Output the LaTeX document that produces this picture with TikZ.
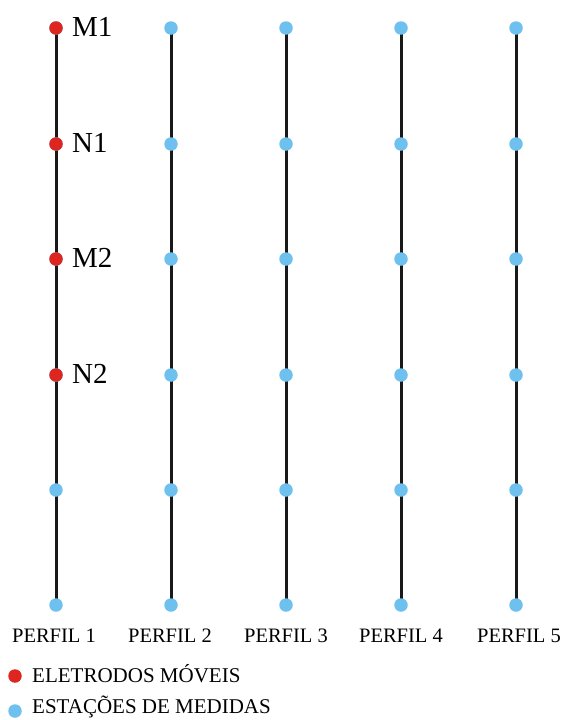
\documentclass[tikz,border=0pt]{standalone}
\usepackage{fontspec}
\setmainfont{Liberation Serif}
\definecolor{eletred}{RGB}{222,38,32}
\definecolor{estblue}{RGB}{110,192,238}
\begin{document}
\begin{tikzpicture}[x=1pt,y=-1pt,
  profline/.style={line width=3pt, black!90},
  reddot/.style={circle, fill=eletred, inner sep=0pt, minimum size=13.5pt},
  bluedot/.style={circle, fill=estblue, inner sep=0pt, minimum size=13.5pt},
  elabel/.style={anchor=west, inner sep=0pt, font=\fontsize{29}{32}\selectfont},
  plabel/.style={anchor=base, inner sep=0pt, font=\fontsize{20.5}{24}\selectfont},
  leglabel/.style={anchor=base west, inner sep=0pt, font=\fontsize{21}{24}\selectfont}]
\useasboundingbox (0,0) rectangle (564,720);
% profile lines
\foreach \i/\x in {1/56,2/171,3/286,4/401,5/516}{
  \coordinate (t\i) at (\x,28);
  \coordinate (b\i) at (\x,605);
  \draw[profline] (t\i) -- (b\i);
}
% stations
\foreach \i/\x in {1/56,2/171,3/286,4/401,5/516}{
  \foreach \j/\y in {1/28,2/144,3/259,4/375,5/490,6/605}{
    \node[bluedot] (s\i\j) at (\x,\y) {};
  }
}
% moving electrodes
\node[reddot] (m1) at (56,28) {};
\node[reddot] (n1) at (56,144) {};
\node[reddot] (m2) at (56,259) {};
\node[reddot] (n2) at (56,375) {};
\node[elabel] (lm1) at (72,27) {M1};
\node[elabel] (ln1) at (72,143) {N1};
\node[elabel] (lm2) at (72,258) {M2};
\node[elabel] (ln2) at (72,374) {N2};
% profile labels
\foreach \i/\x in {1/54,2/170,3/286,4/401,5/519}{
  \node[plabel] (p\i) at (\x,642) {PERFIL \i};
}
% legend
\node[reddot] (leg1) at (15,676) {};
\node[leglabel] (legt1) at (32,682.5) {ELETRODOS MÓVEIS};
\node[bluedot] (leg2) at (15,711) {};
\node[leglabel] (legt2) at (32,713.5) {ESTAÇÕES DE MEDIDAS};
\end{tikzpicture}
\end{document}
